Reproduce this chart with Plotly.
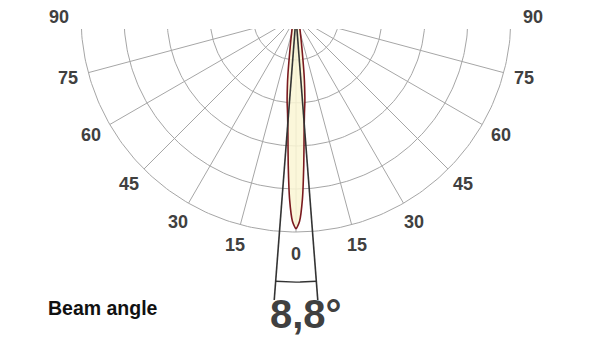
import numpy as np
import plotly.graph_objects as go

# ---- data ----
angle_ticks = [-90, -75, -60, -45, -30, -15, 0, 15, 30, 45, 60, 75, 90]
angle_labels = ["90", "75", "60", "45", "30", "15", "0", "15", "30", "45", "60", "75", "90"]
radial_ticks = [0.2, 0.4, 0.6, 0.8, 1.0]

# relative luminous intensity (symmetric lobe), angle in degrees from nadir
lobe_angles = [0, 1, 2, 3, 4, 5, 6, 7, 8, 10, 12, 15, 20, 30, 45, 90]
lobe_values = [0.985, 0.95, 0.85, 0.69, 0.54, 0.45, 0.395, 0.33, 0.27, 0.17, 0.12, 0.08, 0.05, 0.02, 0.005, 0.0]

beam_angle = 8.8
beam_label = "Beam angle"

# ---- geometry of the drawing (pixels) ----
R_PX = 215.0
CX, CY = 296.0, 17.0
TOP = 29.0

def to_xy(theta_deg, r):
    t = np.radians(np.asarray(theta_deg, dtype=float))
    r = np.asarray(r, dtype=float)
    return r * np.sin(t), -r * np.cos(t)

def data_to_paper(x, y):
    return (CX + R_PX * x) / 600.0, (360.0 - (CY - R_PX * y)) / 360.0

GRID = "#a6a6a6"
TXT = "#404040"
FONT = "Liberation Sans, Arial, sans-serif"
fig = go.Figure()

# circles
arc = np.linspace(-90, 90, 181)
for rv in radial_ticks:
    x, y = to_xy(arc, np.full_like(arc, rv))
    fig.add_trace(go.Scatter(x=x, y=y, mode="lines", line=dict(color=GRID, width=1),
                             hoverinfo="skip", showlegend=False))
# spokes
for a in angle_ticks:
    x, y = to_xy([a, a], [0, radial_ticks[-1]])
    fig.add_trace(go.Scatter(x=x, y=y, mode="lines", line=dict(color=GRID, width=1),
                             hoverinfo="skip", showlegend=False))

# lobe
la = np.array(lobe_angles, dtype=float)
lv = np.array(lobe_values, dtype=float)
full_a = np.concatenate([-la[::-1], la[1:]])
full_v = np.concatenate([lv[::-1], lv[1:]])
x, y = to_xy(full_a, full_v)
fig.add_trace(go.Scatter(x=x, y=y, mode="lines", fill="toself",
                         fillcolor="rgba(250,246,212,0.85)",
                         line=dict(color="#7a1a20", width=1.6, shape="spline", smoothing=0.6),
                         hoverinfo="skip", showlegend=False))

# beam lines
half = beam_angle / 2
for s in (-1, 1):
    x, y = to_xy([s * half, s * half], [0, 1.32])
    fig.add_trace(go.Scatter(x=x, y=y, mode="lines", line=dict(color="#333333", width=1.6),
                             hoverinfo="skip", showlegend=False))
ba = np.linspace(-half, half, 11)
x, y = to_xy(ba, np.full_like(ba, 1.233))
fig.add_trace(go.Scatter(x=x, y=y, mode="lines", line=dict(color="#333333", width=1.4),
                         hoverinfo="skip", showlegend=False))

# angle labels in paper coordinates (the 90 labels sit above the clipped plot area)
lx, ly = to_xy(angle_ticks, np.full(len(angle_ticks), 1.10))
annotations = []
for t, xx, yy in zip(angle_labels, lx, ly):
    px, py = data_to_paper(xx, yy)
    annotations.append(dict(text=t, x=float(px), y=float(py), xref="paper", yref="paper",
                            showarrow=False, xanchor="center", yanchor="middle",
                            font=dict(family=FONT, size=18, color=TXT, weight="bold")))

annotations += [
    dict(text=beam_label, xref="paper", yref="paper", x=46 / 600, y=1 - 308 / 360,
         xanchor="left", yanchor="middle", showarrow=False,
         font=dict(family=FONT, size=19.5, color="#111111", weight="bold")),
    dict(text=f"{beam_angle:.1f}".replace(".", ",") + "°", xref="paper", yref="paper",
         x=306 / 600, y=1 - 314 / 360, xanchor="center", yanchor="middle", showarrow=False,
         font=dict(family=FONT, size=40, color=TXT, weight="bold")),
]

fig.update_layout(
    width=600, height=360,
    margin=dict(l=0, r=0, t=0, b=0),
    paper_bgcolor="white", plot_bgcolor="white",
    xaxis=dict(range=[-CX / R_PX, (600 - CX) / R_PX], visible=False, fixedrange=True),
    yaxis=dict(range=[(CY - 360) / R_PX, (CY - TOP) / R_PX], domain=[0, (360 - TOP) / 360],
               visible=False, fixedrange=True),
    annotations=annotations,
)

fig.write_html("out.html")
